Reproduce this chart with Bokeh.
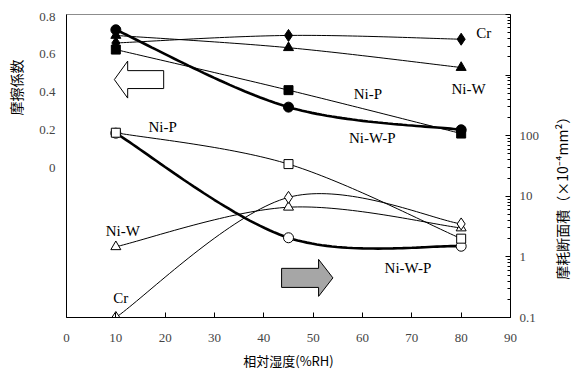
from bokeh.plotting import figure
from bokeh.layouts import row
from bokeh.models import (Range1d, LogScale, LogAxis, LinearAxis, FixedTicker, Label)
from bokeh.core.properties import value
from bokeh.embed import file_html
from bokeh.resources import INLINE
import numpy as np

# ---------------- data ----------------
humidity = [10, 45, 80]          # 相対湿度 (%RH)

# friction coefficient (left axis)
mu_cr = [0.66, 0.70, 0.68]
mu_niw = [0.70, 0.635, 0.53]
mu_nip = [0.625, 0.41, 0.18]
mu_niwp = [0.73, 0.32, 0.20]

# wear cross-section area (right axis, x10^-4 mm^2)
w_nip = [112, 34, 2.0]
w_niw = [1.47, 6.6, 3.0]
w_cr = [0.1, 9.6, 3.5]
w_niwp = [110, 2.07, 1.5]

x_ticks = [0, 10, 20, 30, 40, 50, 60, 70, 80, 90]
left_ticks = [0, 0.2, 0.4, 0.6, 0.8]
right_ticks = [0.1, 1, 10, 100, 1000, 10000]
right_labels = ["0.1", "1", "10", "100", "", ""]

left_title = "摩擦係数"
right_title = "摩耗断面積（×10⁻⁴mm²）"
x_title = "相対湿度(%RH)"

TICK_FONT = "Liberation Sans Narrow"
SERIF = "Liberation Serif"
CJK = "Noto Sans CJK JP"
H = 373


def smooth(xs, ys, n=40):
    """Excel-like smoothed line (Catmull-Rom as cubic Bezier)."""
    P = list(zip(xs, ys))
    out_x, out_y = [], []
    m = len(P)
    for i in range(m - 1):
        p0 = P[i - 1] if i > 0 else P[i]
        p1 = P[i]
        p2 = P[i + 1]
        p3 = P[i + 2] if i + 2 < m else P[i + 1]
        c1 = (p1[0] + (p2[0] - p0[0]) / 6, p1[1] + (p2[1] - p0[1]) / 6)
        c2 = (p2[0] - (p3[0] - p1[0]) / 6, p2[1] - (p3[1] - p1[1]) / 6)
        t = np.linspace(0, 1, n)
        bx = (1 - t) ** 3 * p1[0] + 3 * (1 - t) ** 2 * t * c1[0] + 3 * (1 - t) * t ** 2 * c2[0] + t ** 3 * p2[0]
        by = (1 - t) ** 3 * p1[1] + 3 * (1 - t) ** 2 * t * c1[1] + 3 * (1 - t) * t ** 2 * c2[1] + t ** 3 * p2[1]
        if i > 0:
            bx, by = bx[1:], by[1:]
        out_x.extend(bx.tolist())
        out_y.extend(by.tolist())
    return out_x, out_y


def side_title(width, text, y_center):
    f = figure(width=width, height=H, x_range=Range1d(0, width), y_range=Range1d(0, H),
               output_backend="svg", toolbar_location=None, min_border=0,
               x_axis_location=None, y_axis_location=None)
    f.grid.visible = False
    f.outline_line_color = None
    f.text(x=[width / 2], y=[H - y_center], text=[text], angle=np.pi / 2,
           text_font=value(CJK), text_font_size="14px", text_align="center",
           text_baseline="middle", text_color="black")
    return f


p = figure(frame_width=444, frame_height=303,
           x_range=Range1d(0, 90), y_range=Range1d(-0.795, 0.811),
           output_backend="svg", toolbar_location=None,
           min_border_left=36, min_border_right=38, min_border_top=14,
           min_border_bottom=56, x_axis_location=None, y_axis_location=None)
p.extra_y_ranges = {"wear": Range1d(0.1, 10000)}
p.extra_y_scales = {"wear": LogScale()}
p.grid.visible = False
p.outline_line_color = "#8c8c8c"

# axes
xaxis = LinearAxis(ticker=FixedTicker(ticks=x_ticks), axis_label=x_title)
xaxis.major_tick_in = 5
xaxis.major_tick_out = 0
xaxis.minor_tick_line_color = None
xaxis.major_label_standoff = 16
xaxis.axis_label_standoff = 6
xaxis.major_label_text_font = TICK_FONT
xaxis.major_label_text_font_size = "13px"
xaxis.axis_label_text_font = CJK
xaxis.axis_label_text_font_size = "13px"
xaxis.axis_label_text_font_style = "normal"
xaxis.axis_label_text_color = "black"
xaxis.axis_line_color = "black"
p.add_layout(xaxis, "below")

laxis = LinearAxis(ticker=FixedTicker(ticks=left_ticks))
laxis.major_tick_in = 0
laxis.major_tick_out = 0
laxis.minor_tick_line_color = None
laxis.major_label_standoff = 11
laxis.major_label_text_font = TICK_FONT
laxis.major_label_text_font_size = "13px"
laxis.major_label_overrides = {0: "0", 0.2: "0.2", 0.4: "0.4", 0.6: "0.6", 0.8: "0.8"}
p.add_layout(laxis, "left")

raxis = LogAxis(y_range_name="wear",
                ticker=FixedTicker(ticks=right_ticks,
                                   minor_ticks=[m * d for d in [0.1, 1, 10, 100, 1000] for m in range(2, 10)]))
raxis.major_tick_in = 5
raxis.major_tick_out = 0
raxis.minor_tick_in = 3
raxis.minor_tick_out = 0
raxis.major_label_standoff = 9
raxis.major_label_text_font = TICK_FONT
raxis.major_label_text_font_size = "13px"
raxis.major_label_overrides = dict(zip(right_ticks, right_labels))
p.add_layout(raxis, "right")

# -------- friction lines (left axis) --------
for ys, lw in [(mu_cr, 1), (mu_niw, 1), (mu_nip, 1), (mu_niwp, 2.6)]:
    sx, sy = smooth(humidity, ys)
    p.line(sx, sy, line_color="black", line_width=lw)

# -------- wear lines (right axis, log) --------
for ys, lw in [(w_cr, 1), (w_niw, 1), (w_nip, 1), (w_niwp, 2.6)]:
    sx, sl = smooth(humidity, list(np.log10(ys)))
    p.line(sx, (10 ** np.array(sl)).tolist(), line_color="black", line_width=lw, y_range_name="wear")

# markers: friction (filled)
p.scatter(humidity, mu_nip, marker="square", size=9, fill_color="black", line_color="black")
p.scatter(humidity, mu_niw, marker="triangle", size=10, fill_color="black", line_color="black")
p.scatter(humidity, mu_cr, marker="diamond", size=12, fill_color="black", line_color="black")
p.scatter(humidity, mu_niwp, marker="circle", size=10, fill_color="black", line_color="black")

# markers: wear (open)
p.scatter(humidity, w_niwp, marker="circle", size=10, fill_color="white", line_color="black", y_range_name="wear")
p.scatter(humidity, w_nip, marker="square", size=9, fill_color="white", line_color="black", y_range_name="wear")
p.scatter(humidity, w_niw, marker="triangle", size=10, fill_color="white", line_color="black", y_range_name="wear")
p.scatter(humidity, w_cr, marker="diamond", size=12, fill_color="white", line_color="black", y_range_name="wear")


# -------- arrows (decorations) --------
def arrow(tail, tip, yc, body_h, head_h, head_len):
    d = 1 if tip > tail else -1
    hb = tip - d * head_len
    xs = [tail, hb, hb, tip, hb, hb, tail]
    ys = [yc - body_h / 2, yc - body_h / 2, yc - head_h / 2, yc, yc + head_h / 2, yc + body_h / 2, yc + body_h / 2]
    return xs, ys


ax, ay = arrow(19.7, 9.7, 0.466, 0.095, 0.196, 2.7)
p.patch(ax, ay, fill_color="white", line_color="black", line_width=1)
bx, by = arrow(43.6, 54.0, -0.585, 0.101, 0.196, 2.9)
p.patch(bx, by, fill_color="#a6a6a6", line_color="black", line_width=1)

# -------- series labels --------
series_labels = [("Cr", 84.6, 0.715), ("Ni-W", 81.5, 0.418), ("Ni-P", 61.1, 0.387),
                 ("Ni-W-P", 62.0, 0.159), ("Ni-P", 19.5, 0.217), ("Ni-W", 11.4, -0.334),
                 ("Cr", 11.0, -0.694), ("Ni-W-P", 69.2, -0.535)]
for txt, lx, ly in series_labels:
    p.add_layout(Label(x=lx, y=ly, text=txt, text_font=SERIF, text_font_size="15px",
                       text_align="center", text_baseline="middle", text_color="black"))

left_fig = side_title(30, left_title, 90)
right_fig = side_title(27, right_title, 222)

layout = row(left_fig, p, right_fig, spacing=0)
open("out.html", "w").write(file_html(layout, INLINE))
